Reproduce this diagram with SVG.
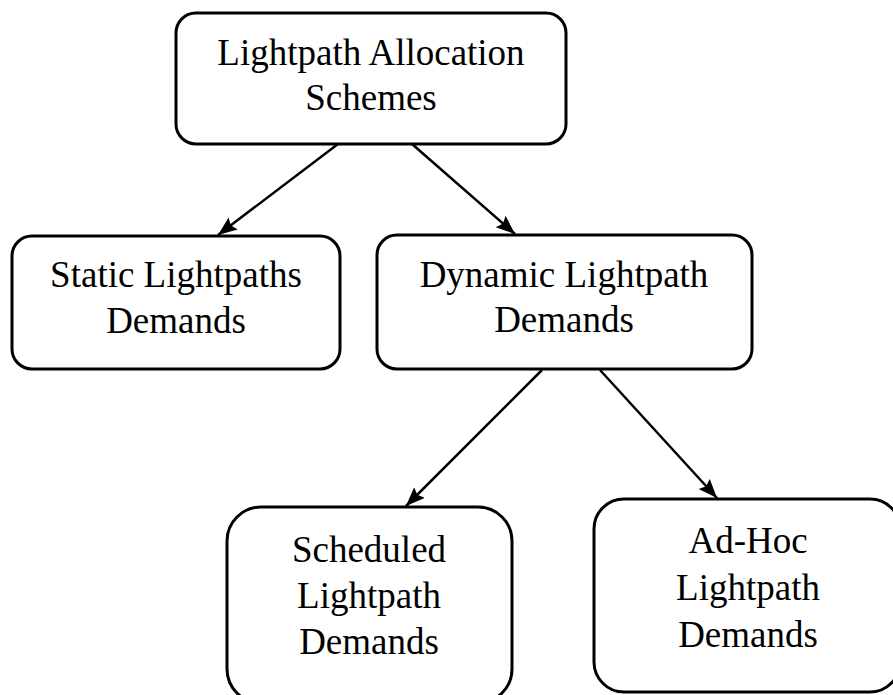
<svg xmlns="http://www.w3.org/2000/svg" width="893" height="695" viewBox="0 0 893 695">
  <style>
    .box { fill: #ffffff; stroke: #000000; stroke-width: 3; }
    .label { font-family: "Liberation Serif", "Times New Roman", serif; font-size: 37px; fill: #000000; text-anchor: middle; }
    .edge { stroke: #000000; stroke-width: 2.5; fill: none; marker-end: url(#arrow); }
  </style>
  <defs>
    <marker id="arrow" markerUnits="userSpaceOnUse" markerWidth="22" markerHeight="16" refX="19" refY="7.5" orient="auto">
      <path d="M0,0 L19,7.5 L0,15 L3,7.5 z" fill="#000000"/>
    </marker>
  </defs>
  <rect width="893" height="695" fill="#ffffff"/>

  <g id="connectors">
    <line class="edge" x1="338" y1="144" x2="218" y2="235"/>
    <line class="edge" x1="412" y1="144" x2="515" y2="234"/>
    <line class="edge" x1="542" y1="370" x2="406" y2="506"/>
    <line class="edge" x1="600" y1="370" x2="717" y2="498"/>
  </g>

  <g id="node-allocation-schemes">
    <rect class="box" x="176" y="13" width="390" height="131" rx="20" ry="20"/>
    <text class="label" x="371" y="65">Lightpath Allocation</text>
    <text class="label" x="371" y="110">Schemes</text>
  </g>

  <g id="node-static">
    <rect class="box" x="12" y="236" width="328" height="133" rx="20" ry="20"/>
    <text class="label" x="176" y="287">Static Lightpaths</text>
    <text class="label" x="176" y="333">Demands</text>
  </g>

  <g id="node-dynamic">
    <rect class="box" x="377" y="235" width="375" height="134" rx="20" ry="20"/>
    <text class="label" x="564" y="287">Dynamic Lightpath</text>
    <text class="label" x="564" y="332">Demands</text>
  </g>

  <g id="node-scheduled">
    <rect class="box" x="227" y="507" width="285" height="196" rx="34" ry="34"/>
    <text class="label" x="369" y="562">Scheduled</text>
    <text class="label" x="369" y="608">Lightpath</text>
    <text class="label" x="369" y="654">Demands</text>
  </g>

  <g id="node-adhoc">
    <rect class="box" x="594" y="499" width="306" height="193" rx="30" ry="30"/>
    <text class="label" x="748" y="553">Ad-Hoc</text>
    <text class="label" x="748" y="600">Lightpath</text>
    <text class="label" x="748" y="647">Demands</text>
  </g>
</svg>
